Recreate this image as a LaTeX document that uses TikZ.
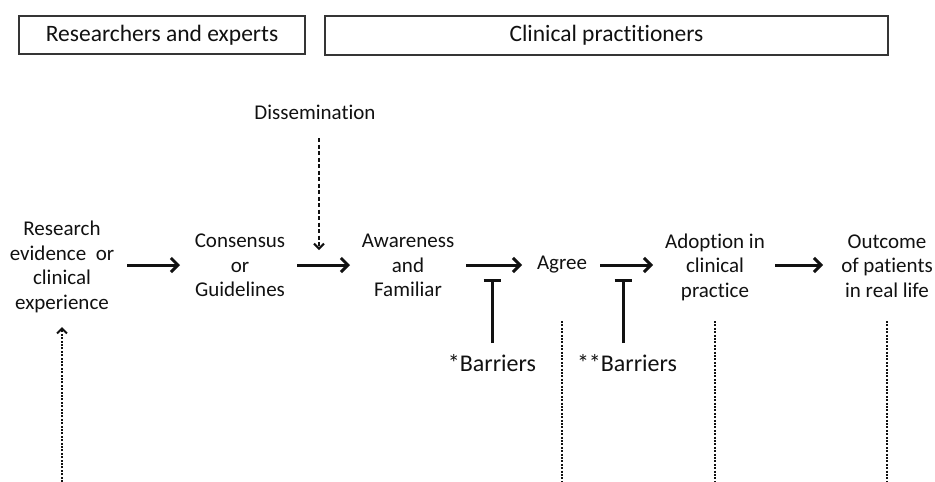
\documentclass[tikz,border=0pt]{standalone}
\usepackage{fontspec}
\setmainfont{Carlito}[Ligatures=NoCommon]
\usetikzlibrary{arrows.meta}
\definecolor{ink}{HTML}{111111}
\begin{document}
\begin{tikzpicture}[x=1pt,y=-1pt,
  every node/.style={text=ink, inner sep=0pt},
  lbl/.style={align=center, font=\fontsize{21}{24.5}\selectfont},
  barlbl/.style={font=\fontsize{24}{28}\selectfont},
  hdr/.style={draw=ink!85, line width=1.2pt, font=\fontsize{23.5}{28}\selectfont},
  flow/.style={draw=ink, line width=3pt, -{Straight Barb[length=7pt,width=14pt]}},
  dissarrow/.style={draw=ink, line width=2pt, dash pattern=on 4pt off 2.5pt, -{Straight Barb[length=5pt,width=10pt,line width=2pt]}},
  dotline/.style={draw=ink, line width=2pt, dash pattern=on 2pt off 1.4pt},
  dotarrow/.style={dotline, -{Straight Barb[length=5pt,width=10pt,line width=2pt]}},
  tbar/.style={draw=ink, line width=3pt, -{Bar[width=17pt,line width=3pt]}}
]
\useasboundingbox (0,0) rectangle (935,482);

% header boxes
\node[hdr, minimum width=286pt, minimum height=38pt] (hres) at (162,35) {Researchers and experts};
\node[hdr, minimum width=563pt, minimum height=39pt] (hclin) at (606.5,35.5) {Clinical practitioners};

% flow nodes
\node[lbl] (research)  at (62,267)  {Research\\evidence\ \ or\\clinical\\experience};
\node[lbl] (consensus) at (240,265.5) {Consensus\\or\\Guidelines};
\node[lbl] (awareness) at (408,265.5) {Awareness\\and\\Familiar};
\node[lbl] (agree)     at (562,265) {Agree};
\node[lbl] (adoption)  at (715,267) {Adoption in\\clinical\\practice};
\node[lbl] (outcome)   at (887,266) {Outcome\\of patients\\in real life};

\node[lbl] (diss) at (315,112) {Dissemination};
\node[barlbl] (b1) at (492,363) {*Barriers};
\node[barlbl] (b2) at (627,363) {**Barriers};

\coordinate (dissend) at (319,250);
\coordinate (bottom) at (0,482);
\coordinate (flowy) at (0,265);

% main arrows
\draw[flow] ([xshift=65pt]research.center |- flowy) -- ([xshift=-60pt]consensus.center |- flowy);
\draw[flow] ([xshift=57pt]consensus.center |- flowy) -- ([xshift=-58pt]awareness.center |- flowy);
\draw[flow] ([xshift=58pt]awareness.center |- flowy) -- ([xshift=-40pt]agree.center |- flowy);
\draw[flow] ([xshift=38pt]agree.center |- flowy) -- ([xshift=-62pt]adoption.center |- flowy);
\draw[flow] ([xshift=60pt]adoption.center |- flowy) -- ([xshift=-64pt]outcome.center |- flowy);

% dissemination
\draw[dissarrow] ([xshift=4pt,yshift=-26pt]diss.center) -- (dissend);

% barriers
\draw[tbar] ([yshift=20pt]b1.center) -- ([yshift=84pt]b1.center);
\draw[tbar] ([xshift=-4pt,yshift=20pt]b2.center) -- ([xshift=-4pt,yshift=84pt]b2.center);

% dotted lines
\draw[dotarrow] (research.center |- bottom) -- ([yshift=-60pt]research.center);
\draw[dotline] ([yshift=-56pt]agree.center) -- (agree.center |- bottom);
\draw[dotline] ([yshift=-54pt]adoption.center) -- (adoption.center |- bottom);
\draw[dotline] ([yshift=-55pt]outcome.center) -- (outcome.center |- bottom);
\end{tikzpicture}
\end{document}
